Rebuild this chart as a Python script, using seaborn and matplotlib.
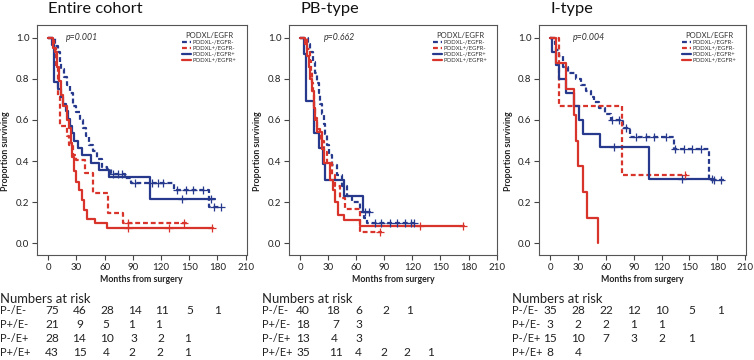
import numpy as np
import pandas as pd
import matplotlib
matplotlib.use("Agg")
import matplotlib.pyplot as plt
from matplotlib.lines import Line2D
import seaborn as sns

sns.set_theme(style="white")
plt.rcParams["font.family"] = ["Lato", "DejaVu Sans"]

# ---------------- data ----------------
groups = ["PODXL-/EGFR-", "PODXL+/EGFR-", "PODXL-/EGFR+", "PODXL+/EGFR+"]
risk_labels = ["P-/E-", "P+/E-", "P-/E+", "P+/E+"]
titles = ["Entire cohort", "PB-type", "I-type"]
p_values = ["p=0.001", "p=0.662", "p=0.004"]
x_ticks = [0, 30, 60, 90, 120, 150, 180, 210]
y_ticks = [0.0, 0.2, 0.4, 0.6, 0.8, 1.0]

# Entire cohort
all_nn_t = [0, 7, 10, 12.5, 14, 17, 19.5, 23.5, 26.5, 29.5, 33.5, 37, 40, 43, 48, 52, 57, 62, 67, 82, 88, 134, 171, 185]
all_nn_s = [1.0, 0.96, 0.93, 0.88, 0.85, 0.81, 0.77, 0.73, 0.67, 0.64, 0.60, 0.56, 0.52, 0.48, 0.45, 0.41, 0.37, 0.36, 0.335, 0.32, 0.295, 0.26, 0.175, 0.175]
all_nn_c = [69, 74.5, 78, 92, 110, 117, 122, 137, 147, 154, 165, 176, 184]
all_pn_t = [0, 6, 8, 10.5, 12.4, 19.5, 22, 26, 30, 39, 48, 64, 80, 148]
all_pn_s = [1.0, 0.952, 0.857, 0.714, 0.571, 0.524, 0.476, 0.43, 0.405, 0.34, 0.243, 0.146, 0.097, 0.097]
all_pn_c = [85, 145]
all_ne_t = [0, 3.5, 6.4, 10.6, 14, 16, 18.8, 21, 23, 25, 27, 32, 35.5, 45, 54, 65, 108, 177]
all_ne_s = [1.0, 0.964, 0.786, 0.75, 0.714, 0.679, 0.643, 0.607, 0.571, 0.536, 0.5, 0.464, 0.429, 0.393, 0.357, 0.324, 0.214, 0.214]
all_ne_c = [142, 173]
all_pe_t = [0, 5.3, 7.1, 8.9, 11.7, 13.5, 16, 19.5, 22, 23.8, 25.5, 27.3, 30, 32.6, 35.5, 38, 41, 50, 62, 175.5]
all_pe_s = [1.0, 0.95, 0.93, 0.86, 0.79, 0.72, 0.67, 0.6, 0.56, 0.49, 0.42, 0.35, 0.30, 0.26, 0.21, 0.16, 0.12, 0.097, 0.072, 0.072]
all_pe_c = [85, 129, 174]

# PB-type
pb_nn_t = [0, 7.9, 10.7, 13.6, 16, 17.9, 19.6, 21.4, 23.2, 25, 26.8, 28.6, 30.4, 34, 39.3, 44.6, 50, 55.4, 64.3, 67.9, 71.4, 122]
pb_nn_s = [1.0, 0.97, 0.93, 0.88, 0.83, 0.78, 0.73, 0.68, 0.63, 0.58, 0.53, 0.48, 0.43, 0.38, 0.33, 0.28, 0.23, 0.2, 0.15, 0.125, 0.10, 0.10]
pb_nn_c = [80, 86, 96, 104, 112, 118, 122]
pb_pn_t = [0, 7.1, 10, 11.4, 12.5, 13.6, 14.3, 16, 17.9, 21.4, 25, 28.6, 34, 37.5, 42.9, 48, 64.3, 87.5]
pb_pn_s = [1.0, 0.944, 0.889, 0.833, 0.778, 0.722, 0.667, 0.611, 0.556, 0.5, 0.444, 0.389, 0.333, 0.278, 0.222, 0.167, 0.056, 0.056]
pb_pn_c = [85]
pb_ne_t = [0, 4.5, 6.4, 14.3, 19.6, 24.3, 26.8, 46.4, 66.8, 75]
pb_ne_s = [1.0, 0.923, 0.692, 0.538, 0.462, 0.385, 0.308, 0.231, 0.154, 0.154]
pb_ne_c = [69, 74]
pb_pe_t = [0, 5.4, 7.1, 8.9, 10.7, 12.5, 14.3, 16, 17.9, 23.2, 25.7, 32, 35, 37.5, 40, 46.4, 64.3, 175]
pb_pe_s = [1.0, 0.97, 0.91, 0.86, 0.8, 0.74, 0.66, 0.6, 0.54, 0.46, 0.39, 0.31, 0.26, 0.2, 0.14, 0.114, 0.086, 0.086]
pb_pe_c = [128.6, 174]

# I-type
it_nn_t = [0, 4.7, 6.5, 10, 13.6, 19, 28, 33.3, 38.7, 44, 47.7, 53, 59.5, 65.6, 78, 86, 133, 171, 187]
it_nn_s = [1.0, 0.97, 0.94, 0.91, 0.86, 0.83, 0.80, 0.77, 0.74, 0.71, 0.686, 0.66, 0.63, 0.60, 0.56, 0.515, 0.46, 0.306, 0.306]
it_nn_c = [67, 74, 82, 92, 103, 112, 125, 135, 144, 152.5, 163, 176, 184]
it_pn_t = [0, 10, 77, 147]
it_pn_s = [1.0, 0.667, 0.333, 0.333]
it_pn_c = [145]
it_ne_t = [0, 1.8, 6.5, 10, 17.2, 26.2, 31.5, 35, 54, 107, 175]
it_ne_s = [1.0, 0.933, 0.867, 0.8, 0.733, 0.667, 0.6, 0.533, 0.467, 0.311, 0.311]
it_ne_c = [69, 142, 174]
it_pe_t = [0, 6, 17, 26, 28, 29.5, 35, 40, 51.8]
it_pe_s = [1.0, 0.875, 0.75, 0.625, 0.5, 0.375, 0.25, 0.125, 0.0]
it_pe_c = []

# numbers at risk (rows: P-/E-, P+/E-, P-/E+, P+/E+)
risk_all = [[75, 46, 28, 14, 11, 5, 1], [21, 9, 5, 1, 1], [28, 14, 10, 3, 2, 1], [43, 15, 4, 2, 2, 1]]
risk_pb = [[40, 18, 6, 2, 1], [18, 7, 3], [13, 4, 3], [35, 11, 4, 2, 2, 1]]
risk_it = [[35, 28, 22, 12, 10, 5, 1], [3, 2, 2, 1, 1], [15, 10, 7, 3, 2, 1], [8, 4]]

curves = [
    [(all_nn_t, all_nn_s, all_nn_c), (all_pn_t, all_pn_s, all_pn_c), (all_ne_t, all_ne_s, all_ne_c), (all_pe_t, all_pe_s, all_pe_c)],
    [(pb_nn_t, pb_nn_s, pb_nn_c), (pb_pn_t, pb_pn_s, pb_pn_c), (pb_ne_t, pb_ne_s, pb_ne_c), (pb_pe_t, pb_pe_s, pb_pe_c)],
    [(it_nn_t, it_nn_s, it_nn_c), (it_pn_t, it_pn_s, it_pn_c), (it_ne_t, it_ne_s, it_ne_c), (it_pe_t, it_pe_s, it_pe_c)],
]
risks = [risk_all, risk_pb, risk_it]

# ---------------- style ----------------
BLUE = "#26398c"
RED = "#d8342b"
palette = {groups[0]: BLUE, groups[1]: RED, groups[2]: BLUE, groups[3]: RED}
dash_map = {groups[0]: (2.2, 1.3), groups[1]: (2.2, 1.3), groups[2]: "", groups[3]: ""}
TXT = "#222222"

W, H = 754, 360
fig = plt.figure(figsize=(W / 100, H / 100), dpi=100)
ax_left_px = [37, 289, 539]
ax_w_px = [209.5, 208.5, 207]
ax_top_px, ax_bot_px = 25, 255

# table layout (figure pixels)
label_x_px = [0, 262, 512]
col_x_px = [
    [[52, 80, 107, 135, 162, 190, 218], [52, 80, 106, 132, 159], [52, 79, 107, 134, 161, 188], [52, 80, 106, 132, 160, 188]],
    [[303, 333, 359, 386, 410], [303, 336, 359], [303, 334, 359], [303, 336, 358, 384, 407, 431]],
    [[550, 578, 606, 634, 662, 692, 721], [550, 578, 606, 634, 662], [550, 578, 606, 634, 662, 692], [550, 578]],
]
row_y_px = [311, 324.5, 338.5, 352]
head_y_px = 299

for k in range(3):
    ax = fig.add_axes([ax_left_px[k] / W, 1 - ax_bot_px / H, ax_w_px[k] / W, (ax_bot_px - ax_top_px) / H])
    rows, crows = [], []
    for g, (t, s, c) in zip(groups, curves[k]):
        for ti, si in zip(t, s):
            rows.append({"time": ti, "surv": si, "group": g})
        t_arr, s_arr = np.asarray(t), np.asarray(s)
        for ci in c:
            idx = np.searchsorted(t_arr, ci, side="right") - 1
            crows.append({"time": ci, "surv": s_arr[idx], "group": g})
    df = pd.DataFrame(rows)
    sns.lineplot(data=df, x="time", y="surv", hue="group", style="group", palette=palette,
                 dashes=dash_map, hue_order=groups, style_order=groups, estimator=None,
                 sort=False, drawstyle="steps-post", linewidth=1.6, legend=False, ax=ax)
    if crows:
        cdf = pd.DataFrame(crows)
        for g in groups:
            sub = cdf[cdf.group == g]
            if len(sub):
                sns.scatterplot(data=sub, x="time", y="surv", color=palette[g], marker="+",
                                s=28, linewidth=0.9, legend=False, ax=ax, zorder=5)

    ax.set_xlim(-12, 211)
    ax.set_ylim(-0.057, 1.062)
    ax.set_xticks(x_ticks)
    ax.set_yticks(y_ticks)
    ax.set_xticklabels([str(v) for v in x_ticks], fontsize=7, color=TXT)
    ax.set_yticklabels([f"{v:.1f}" for v in y_ticks], fontsize=7, color=TXT)
    ax.tick_params(axis="both", direction="out", length=3.5, width=0.8, color="#444444", pad=2,
                   bottom=True, left=True)
    for sp in ax.spines.values():
        sp.set_color("#555555")
        sp.set_linewidth(0.8)
    ax.set_xlabel("Months from surgery", fontsize=6.3, fontweight="bold", color=TXT)
    ax.set_ylabel("Proportion surviving", fontsize=6.3, fontweight="bold", color=TXT)
    ax.xaxis.set_label_coords(0.5, -0.085)
    ax.yaxis.set_label_coords(-0.128, 0.45)

    ax.text(0, 1.068, titles[k], transform=ax.get_xaxis_transform(), fontsize=11.8,
            ha="left", va="center", color="#111111")
    ax.text(19 if k == 0 else 25, 1.0, p_values[k], fontsize=6.3, style="italic",
            ha="left", va="center", color="#333333")

    handles = [Line2D([], [], color=palette[g], lw=1.6,
                      linestyle=(0, dash_map[g]) if dash_map[g] else "-") for g in groups]
    leg = ax.legend(handles, groups, title="PODXL/EGFR", loc="upper right",
                    bbox_to_anchor=(0.97, 0.985), fontsize=4.3, title_fontsize=5.5,
                    frameon=False, handlelength=1.5, handletextpad=0.3, labelspacing=0.12,
                    borderaxespad=0.2)
    for txt in leg.get_texts():
        txt.set_color("#333333")
    leg.get_title().set_color("#333333")

    # numbers at risk
    fig.text(label_x_px[k] / W, 1 - head_y_px / H, "Numbers at risk", fontsize=9.4,
             ha="left", va="center", color=TXT)
    for r in range(4):
        fig.text(label_x_px[k] / W, 1 - row_y_px[r] / H, risk_labels[r], fontsize=7.9,
                 ha="left", va="center", color=TXT)
        for val, xp in zip(risks[k][r], col_x_px[k][r]):
            fig.text(xp / W, 1 - row_y_px[r] / H, str(val), fontsize=8.6,
                     ha="center", va="center", color=TXT)

fig.savefig("out.png", dpi=100)
